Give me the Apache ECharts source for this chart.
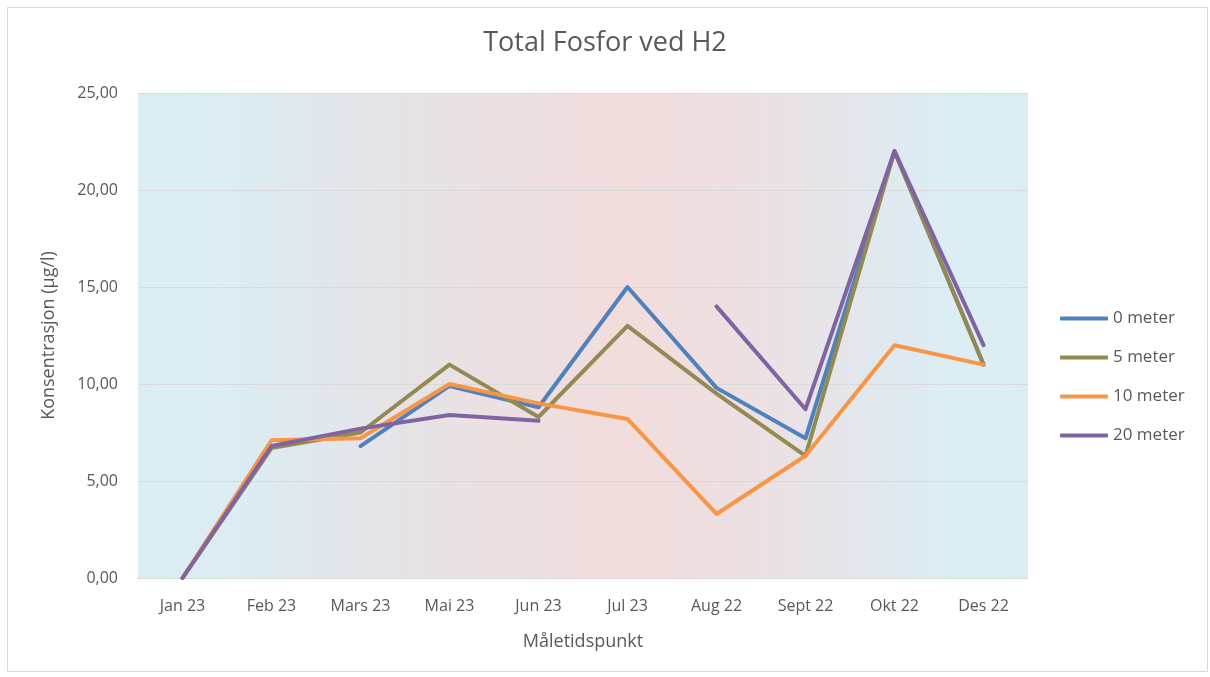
<!DOCTYPE html>
<html>
<head>
<meta charset="utf-8">
<script src="https://cdn.jsdelivr.net/npm/echarts@6/dist/echarts.min.js"></script>
<style>
  html, body { margin: 0; padding: 0; background: #fff; }
  #chart { width: 1210px; height: 677px; }
</style>
</head>
<body>
<div id="chart"></div>
<script>
var months = ['Jan 23', 'Feb 23', 'Mars 23', 'Mai 23', 'Jun 23', 'Jul 23', 'Aug 22', 'Sept 22', 'Okt 22', 'Des 22'];
var seriesNames = ['0 meter', '5 meter', '10 meter', '20 meter'];
var m0 = [null, null, 6.8, 9.9, 8.8, 15.0, 9.8, 7.2, 22.0, 11.0];
var m5 = [0, 6.7, 7.5, 11.0, 8.3, 13.0, 9.5, 6.3, 22.0, 11.0];
var m10 = [0, 7.1, 7.2, 10.0, 9.0, 8.2, 3.3, 6.3, 12.0, 11.0];
var m20 = [0, 6.8, 7.7, 8.4, 8.1, null, 14.0, 8.7, 22.0, 12.0];
var colors = ['#4f81bd', '#938953', '#f79646', '#8064a2'];

var font = '"Open Sans", "Noto Sans", sans-serif';
var textColor = '#595959';

function line(name, data, color) {
    return {
        name: name,
        type: 'line',
        data: data,
        symbol: 'none',
        connectNulls: false,
        lineStyle: { width: 4, color: color, cap: 'round', join: 'round' },
        itemStyle: { color: color }
    };
}

var option = {
    backgroundColor: '#ffffff',
    textStyle: { fontFamily: font },
    title: {
        text: 'Total Fosfor ved H2',
        left: 'center',
        top: 25,
        textStyle: { fontFamily: font, fontSize: 27, fontWeight: 'normal', color: textColor }
    },
    graphic: [{
        type: 'rect',
        shape: { x: 7.5, y: 7.5, width: 1200, height: 664 },
        style: { fill: 'none', stroke: '#d9d9d9', lineWidth: 1 },
        silent: true,
        z: -1
    }],
    legend: {
        orient: 'vertical',
        left: 1055,
        top: 305,
        itemWidth: 48,
        itemHeight: 4,
        itemGap: 22,
        icon: 'roundRect',
        data: seriesNames,
        textStyle: { fontFamily: font, fontSize: 17, color: textColor }
    },
    grid: {
        left: 138,
        right: 182,
        top: 93,
        bottom: 99,
        show: true,
        borderWidth: 0,
        backgroundColor: {
            type: 'linear', x: 0, y: 0, x2: 1, y2: 0,
            colorStops: [
                { offset: 0, color: '#dbedf3' },
                { offset: 0.12, color: '#dcecf2' },
                { offset: 0.3, color: '#e6e3e6' },
                { offset: 0.55, color: '#f2dcdc' },
                { offset: 0.72, color: '#ebe1e4' },
                { offset: 0.88, color: '#dcecf2' },
                { offset: 1, color: '#dbedf3' }
            ]
        }
    },
    xAxis: {
        type: 'category',
        data: months,
        boundaryGap: true,
        name: 'Måletidspunkt',
        nameLocation: 'middle',
        nameGap: 55,
        nameTextStyle: { fontFamily: font, fontSize: 18, color: textColor },
        axisLine: { show: true, lineStyle: { color: '#d9d9d9', width: 1 } },
        axisTick: { show: false },
        axisLabel: { fontFamily: font, fontSize: 16, color: textColor, margin: 20, interval: 0 }
    },
    yAxis: {
        type: 'value',
        min: 0,
        max: 25,
        interval: 5,
        name: 'Konsentrasjon (µg/l)',
        nameLocation: 'middle',
        nameGap: 80,
        nameTextStyle: { fontFamily: font, fontSize: 18, color: textColor },
        axisLine: { show: false },
        axisTick: { show: false },
        splitLine: { lineStyle: { color: '#d9d9d9', width: 1 } },
        axisLabel: {
            fontFamily: font, fontSize: 16, color: textColor, margin: 20,
            formatter: function(v) { return v.toFixed(2).replace('.', ','); }
        }
    },
    series: [
        line(seriesNames[0], m0, colors[0]),
        line(seriesNames[1], m5, colors[1]),
        line(seriesNames[2], m10, colors[2]),
        line(seriesNames[3], m20, colors[3])
    ]
};

var myChart = echarts.init(document.getElementById('chart'));
myChart.setOption(option);
</script>
</body>
</html>
